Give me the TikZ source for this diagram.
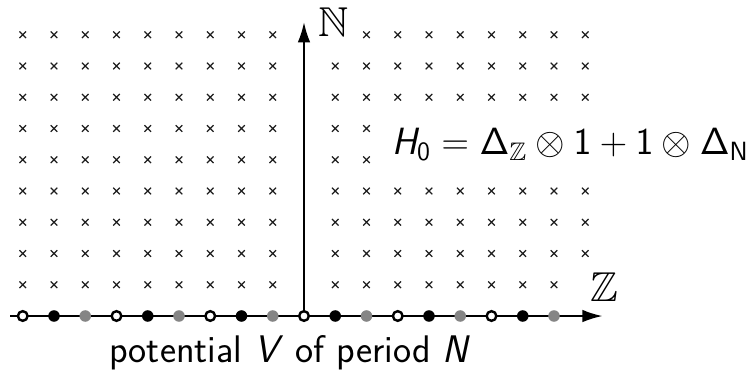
\documentclass[tikz,border=0pt]{standalone}
\usepackage{amssymb}
\usetikzlibrary{arrows.meta,shapes.misc}
\DeclareMathAlphabet{\mathss}{OT1}{cmss}{m}{n}
\DeclareMathAlphabet{\mathssit}{OT1}{cmss}{m}{sl}
\definecolor{ink}{HTML}{000000}
\definecolor{latticeInk}{HTML}{1E1E1E}
\definecolor{siteGray}{HTML}{858585}
\tikzset{
  lattice cross/.style={
    cross out,
    draw=latticeInk,
    line width=0.55pt,
    minimum size=0.85mm,
    inner sep=0pt
  },
  site open/.style={
    circle,
    draw=ink,
    fill=white,
    line width=1.1pt,
    minimum size=1.55mm,
    inner sep=0pt
  },
  site black/.style={
    circle,
    fill=ink,
    minimum size=1.85mm,
    inner sep=0pt
  },
  site gray/.style={
    site black,
    fill=siteGray
  },
  axis arrow/.style={
    -{Latex[length=3.2mm,width=2mm]},
    draw=ink,
    line width=0.8pt
  },
  axis label/.style={
    font=\fontsize{19}{22}\selectfont,
    inner sep=0pt,
    text=ink
  },
  formula label/.style={
    font=\fontsize{16.5}{20}\selectfont,
    inner sep=0pt,
    text=ink
  },
  caption label/.style={
    font=\sffamily\fontsize{17.5}{21}\selectfont,
    inner sep=0pt,
    text=ink
  }
}

\begin{document}
\begin{tikzpicture}[x=0.5cm,y=0.5cm]
  \useasboundingbox (-9.728,-2.048) rectangle (14.176,10.112);

  % lattice, left half
  \foreach \col in {-9,...,-1}
    \foreach \row in {1,...,9}
      \node[lattice cross] (x\col-\row) at (\col,\row) {};

  % lattice, right half (gaps for the labels)
  \foreach \col in {1,...,9}
    \foreach \row in {2,3,4,7,8}
      \node[lattice cross] (x\col-\row) at (\col,\row) {};
  \foreach \col in {1,...,8}
    \node[lattice cross] (x\col-1) at (\col,1) {};
  \foreach \col in {2,...,9}
    \node[lattice cross] (x\col-9) at (\col,9) {};
  \foreach \col in {1,2}
    \foreach \row in {5,6}
      \node[lattice cross] (x\col-\row) at (\col,\row) {};

  % axes
  \coordinate (origin) at (0,0);
  \coordinate (zTail) at (-9.4,0);
  \coordinate (zHead) at (9.55,0);
  \coordinate (nHead) at (0,9.4);
  \draw[axis arrow] (zTail) -- (zHead);
  \draw[axis arrow] (origin) -- (nHead);

  \node[axis label] (nLabel) at (0.94,9.42) {$\mathbb{N}$};
  \node[axis label] (zLabel) at (9.6,0.94) {$\mathbb{Z}$};

  % periodic potential on the axis
  \foreach \col in {-9,-6,...,6}
    \node[site open] (s\col) at (\col,0) {};
  \foreach \col in {-8,-5,...,7}
    \node[site black] (s\col) at (\col,0) {};
  \foreach \col in {-7,-4,...,8}
    \node[site gray] (s\col) at (\col,0) {};

  \node[formula label,anchor=west] (hamiltonian) at (2.8,5.5)
    {$\mathssit{H}_{\mathss{0}} = \mathss{\Delta}_{\mathbb{Z}} \otimes \mathss{1}
      + \mathss{1} \otimes \mathss{\Delta}_{\mathss{N}}$};

  \node[caption label,anchor=base] (caption) at (-0.45,-1.5)
    {potential \textit{V} of period \textit{N}};
\end{tikzpicture}
\end{document}
